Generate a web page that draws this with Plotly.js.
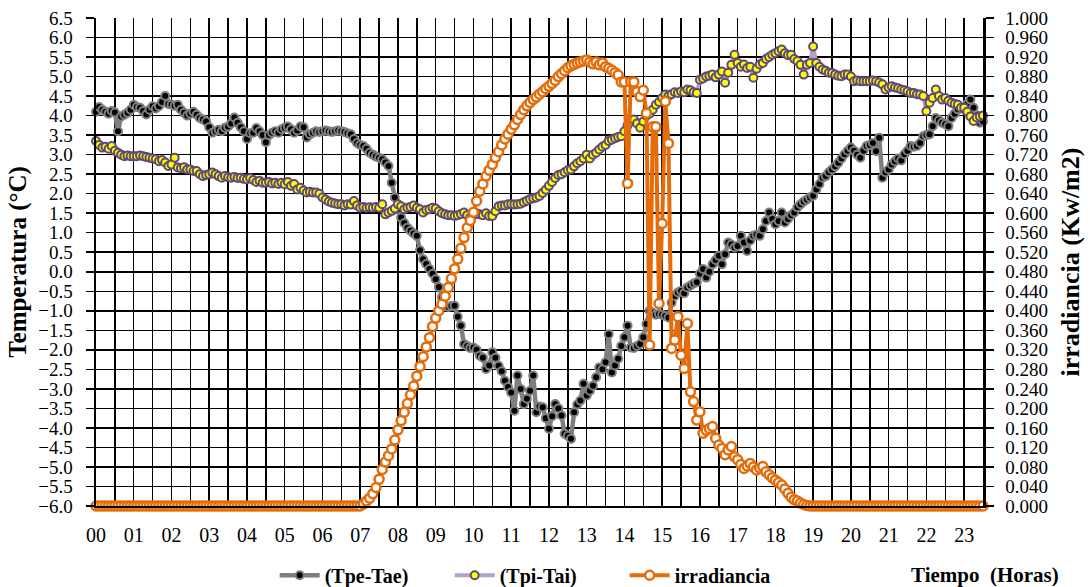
<!DOCTYPE html>
<html>
<head>
<meta charset="utf-8">
<script src="https://cdn.plot.ly/plotly-3.0.1.min.js"></script>
<style>
  html, body { margin: 0; padding: 0; background: #fff; }
  #chart { width: 1090px; height: 587px; }
</style>
</head>
<body>
<div id="chart"></div>
<script>
// Sampling: one reading every 5 minutes, from 00:00 to 23:30
const STEP_MIN = 5;

// (Tpe-Tae) in °C, one row per hour (12 readings)
const tpeTae = [
  4.10, 4.22, 4.15, 4.10, 4.05, 4.12, 4.08, 3.60, 3.98, 4.02, 4.07, 4.15,
  4.28, 4.22, 4.20, 4.12, 4.03, 4.15, 4.24, 4.18, 4.24, 4.35, 4.50, 4.30,
  4.28, 4.25, 4.28, 4.15, 4.07, 4.00, 4.05, 4.10, 4.02, 3.94, 3.90, 3.85,
  3.70, 3.56, 3.60, 3.64, 3.60, 3.69, 3.72, 3.80, 3.95, 3.82, 3.70, 3.60,
  3.40, 3.55, 3.56, 3.68, 3.60, 3.50, 3.32, 3.50, 3.56, 3.60, 3.56, 3.65,
  3.69, 3.72, 3.65, 3.56, 3.62, 3.72, 3.70, 3.44, 3.52, 3.56, 3.60, 3.58,
  3.60, 3.62, 3.60, 3.58, 3.60, 3.62, 3.60, 3.58, 3.55, 3.52, 3.40, 3.30,
  3.25, 3.22, 3.15, 3.05, 3.00, 2.95, 2.92, 2.88, 2.80, 2.71, 2.28, 1.90,
  1.60, 1.39, 1.25, 1.13, 1.05, 0.98, 0.92, 0.55, 0.32, 0.20, 0.07, -0.05,
  -0.19, -0.39, -0.65, -0.87, -0.90, -0.88, -0.87, -1.15, -1.38, -1.85, -1.90, -1.95,
  -1.94, -2.00, -2.15, -2.20, -2.49, -2.40, -2.06, -2.20, -2.41, -2.55, -2.79, -2.95,
  -3.09, -3.56, -2.66, -3.00, -3.39, -3.25, -3.05, -2.66, -3.60, -3.45, -3.47, -3.75,
  -4.02, -3.70, -3.39, -3.50, -3.68, -4.15, -4.20, -4.28, -3.60, -3.40, -3.30, -2.87,
  -3.17, -3.05, -2.92, -2.70, -2.45, -2.50, -2.32, -1.60, -2.58, -2.40, -2.23, -1.90,
  -1.68, -1.38, -1.94, -1.95, -1.90, -1.85, -1.68, -1.34, -1.00, -1.05, -1.10, -1.08,
  -1.10, -1.13, -1.17, -0.79, -0.62, -0.53, -0.49, -0.55, -0.40, -0.35, -0.30, -0.27,
  -0.05, 0.07, -0.15, 0.00, 0.19, 0.30, 0.41, 0.19, 0.45, 0.75, 0.70, 0.62,
  0.66, 0.92, 0.75, 0.53, 0.80, 0.92, 0.95, 0.92, 1.09, 1.30, 1.52, 1.35,
  1.22, 1.30, 1.52, 1.26, 1.35, 1.45, 1.52, 1.65, 1.73, 1.80, 1.85, 1.90,
  1.95, 2.11, 2.25, 2.41, 2.45, 2.55, 2.62, 2.70, 2.79, 2.90, 3.01, 3.10,
  3.18, 3.10, 3.00, 2.92, 3.10, 3.22, 3.25, 3.30, 3.09, 3.43, 2.41, 2.55,
  2.62, 2.75, 2.83, 2.90, 2.85, 3.01, 3.10, 3.22, 3.20, 3.22, 3.30, 3.47,
  3.50, 3.52, 3.73, 3.94, 3.88, 3.82, 3.78, 3.73, 3.94, 4.05, 4.16, 4.20,
  4.16, 4.30, 4.41, 4.20, 4.00, 3.82, 3.85
];

// (Tpi-Tai) in °C
const tpiTai = [
  3.35, 3.25, 3.18, 3.20, 3.15, 3.22, 3.10, 3.05, 3.00, 2.96, 2.98, 2.96,
  2.96, 2.96, 2.98, 2.96, 2.94, 2.92, 2.90, 2.88, 2.83, 2.86, 2.80, 2.71,
  2.75, 2.92, 2.67, 2.65, 2.68, 2.62, 2.62, 2.58, 2.58, 2.50, 2.45, 2.48,
  2.50, 2.54, 2.50, 2.45, 2.41, 2.45, 2.42, 2.41, 2.43, 2.40, 2.41, 2.38,
  2.37, 2.40, 2.35, 2.30, 2.33, 2.28, 2.28, 2.30, 2.26, 2.28, 2.25, 2.28,
  2.24, 2.30, 2.20, 2.25, 2.11, 2.15, 2.08, 2.03, 2.05, 2.03, 2.03, 2.00,
  1.90, 1.85, 1.80, 1.77, 1.75, 1.73, 1.73, 1.70, 1.73, 1.72, 1.81, 1.70,
  1.64, 1.66, 1.64, 1.65, 1.64, 1.66, 1.64, 1.73, 1.47, 1.52, 1.56, 1.62,
  1.73, 1.68, 1.60, 1.64, 1.66, 1.70, 1.64, 1.60, 1.52, 1.58, 1.60, 1.64,
  1.62, 1.55, 1.50, 1.47, 1.45, 1.45, 1.43, 1.45, 1.48, 1.52, 1.45, 1.39,
  1.45, 1.50, 1.47, 1.45, 1.50, 1.43, 1.43, 1.55, 1.68, 1.70, 1.70, 1.73,
  1.73, 1.72, 1.73, 1.74, 1.78, 1.82, 1.86, 1.88, 1.90, 1.94, 2.02, 2.10,
  2.20, 2.30, 2.40, 2.48, 2.50, 2.55, 2.60, 2.62, 2.70, 2.78, 2.83, 2.90,
  3.00, 2.90, 3.00, 3.05, 3.13, 3.20, 3.25, 3.35, 3.38, 3.42, 3.45, 3.47,
  3.60, 3.75, 3.85, 3.90, 3.80, 3.69, 3.85, 4.00, 4.05, 4.15, 4.28, 4.35,
  4.45, 4.54, 4.50, 4.55, 4.60, 4.58, 4.62, 4.60, 4.67, 4.65, 4.60, 4.58,
  4.92, 4.95, 5.00, 5.02, 5.05, 4.98, 5.05, 5.13, 4.84, 5.10, 5.30, 5.56,
  5.35, 5.25, 5.31, 5.22, 5.25, 4.97, 5.20, 5.31, 5.35, 5.45, 5.50, 5.56,
  5.60, 5.65, 5.69, 5.60, 5.55, 5.56, 5.45, 5.40, 5.30, 5.05, 5.30, 5.35,
  5.77, 5.35, 5.25, 5.18, 5.15, 5.10, 5.09, 5.05, 5.02, 5.01, 5.05, 5.05,
  5.00, 4.88, 4.90, 4.88, 4.88, 4.88, 4.88, 4.90, 4.88, 4.85, 4.80, 4.67,
  4.72, 4.75, 4.72, 4.70, 4.67, 4.65, 4.62, 4.58, 4.58, 4.55, 4.54, 4.50,
  4.11, 4.33, 4.45, 4.67, 4.50, 4.41, 4.45, 4.38, 4.33, 4.30, 4.28, 4.20,
  4.20, 4.10, 3.98, 3.86, 3.95, 3.98, 4.00
];

// irradiancia in kW/m2
const irradiancia = [
  0, 0, 0, 0, 0, 0, 0, 0, 0, 0, 0, 0,
  0, 0, 0, 0, 0, 0, 0, 0, 0, 0, 0, 0,
  0, 0, 0, 0, 0, 0, 0, 0, 0, 0, 0, 0,
  0, 0, 0, 0, 0, 0, 0, 0, 0, 0, 0, 0,
  0, 0, 0, 0, 0, 0, 0, 0, 0, 0, 0, 0,
  0, 0, 0, 0, 0, 0, 0, 0, 0, 0, 0, 0,
  0, 0, 0, 0, 0, 0, 0, 0, 0, 0, 0, 0,
  0.000, 0.004, 0.010, 0.016, 0.025, 0.038, 0.055, 0.075, 0.090, 0.103, 0.117, 0.135,
  0.156, 0.175, 0.192, 0.210, 0.228, 0.246, 0.266, 0.286, 0.306, 0.326, 0.345, 0.368,
  0.385, 0.400, 0.414, 0.430, 0.448, 0.466, 0.486, 0.506, 0.528, 0.550, 0.570, 0.585,
  0.602, 0.625, 0.645, 0.660, 0.676, 0.688, 0.700, 0.714, 0.726, 0.740, 0.752, 0.762,
  0.772, 0.781, 0.792, 0.802, 0.812, 0.820, 0.827, 0.833, 0.838, 0.844, 0.849, 0.855,
  0.860, 0.866, 0.872, 0.880, 0.886, 0.892, 0.898, 0.902, 0.905, 0.908, 0.910, 0.912,
  0.914, 0.910, 0.906, 0.910, 0.904, 0.908, 0.900, 0.897, 0.893, 0.888, 0.883, 0.869,
  0.869, 0.661, 0.869, 0.869, 0.849, 0.839, 0.852, 0.805, 0.330, 0.777, 0.777, 0.415,
  0.579, 0.829, 0.743, 0.323, 0.340, 0.388, 0.309, 0.282, 0.374, 0.234, 0.214, 0.176,
  0.193, 0.149, 0.155, 0.159, 0.163, 0.139, 0.125, 0.118, 0.105, 0.115, 0.122, 0.101,
  0.095, 0.085, 0.077, 0.082, 0.087, 0.080, 0.074, 0.078, 0.081, 0.070, 0.064, 0.058,
  0.053, 0.048, 0.043, 0.035, 0.026, 0.018, 0.013, 0.010, 0.006, 0.003, 0.001, 0.000,
  0, 0, 0, 0, 0, 0, 0, 0, 0, 0, 0, 0,
  0, 0, 0, 0, 0, 0, 0, 0, 0, 0, 0, 0,
  0, 0, 0, 0, 0, 0, 0, 0, 0, 0, 0, 0,
  0, 0, 0, 0, 0, 0, 0, 0, 0, 0, 0, 0,
  0, 0, 0, 0, 0, 0, 0
];

// Hour labels on the time axis
const hourLabels = ['00','01','02','03','04','05','06','07','08','09','10','11',
                    '12','13','14','15','16','17','18','19','20','21','22','23'];

// time of each reading, in hours
const hours = tpeTae.map((_, i) => i * STEP_MIN / 60);

// ticks every half hour (grid), labels only on the hour
const xTickVals = [];
const xTickText = [];
for (let h = 0; h <= 23.5; h += 0.5) {
  xTickVals.push(h);
  xTickText.push(Number.isInteger(h) ? hourLabels[h] : '');
}

const SERIF = 'Liberation Serif';

const traces = [
  {
    name: '(Tpe-Tae)', x: hours, y: tpeTae, type: 'scatter', mode: 'lines+markers',
    line: { color: '#7f7f7f', width: 4.5 },
    marker: { size: 8, color: '#000000', line: { color: '#7f7f7f', width: 2 } },
    cliponaxis: false
  },
  {
    name: '(Tpi-Tai)', x: hours, y: tpiTai, type: 'scatter', mode: 'lines+markers',
    line: { color: '#b3a2c7', width: 4 },
    marker: { size: 8, color: '#ffff00', line: { color: '#5f497a', width: 2 } },
    cliponaxis: false
  },
  {
    name: 'irradiancia', x: hours, y: irradiancia, type: 'scatter', mode: 'lines+markers',
    yaxis: 'y2',
    line: { color: '#e46c0a', width: 4 },
    marker: { size: 9, color: '#ffffff', line: { color: '#e46c0a', width: 2.5 } },
    cliponaxis: false
  }
];

const layout = {
  width: 1090, height: 587,
  margin: { l: 96, r: 107, t: 18, b: 81, autoexpand: false },
  paper_bgcolor: '#ffffff', plot_bgcolor: '#ffffff',
  font: { family: SERIF, color: '#000000', size: 19 },
  showlegend: true,
  legend: {
    orientation: 'h', xref: 'container', yref: 'container',
    x: 0.252, xanchor: 'left', y: 0.02, yanchor: 'middle',
    font: { family: SERIF, size: 20, weight: 'bold' },
    itemwidth: 40, entrywidth: 120, entrywidthmode: 'pixels',
    tracegroupgap: 0, bgcolor: 'rgba(0,0,0,0)'
  },
  xaxis: {
    range: [0, 23.5], tickmode: 'array', tickvals: xTickVals, ticktext: xTickText,
    showgrid: true, gridcolor: '#000000', gridwidth: 1.5,
    showline: true, linecolor: '#000000', linewidth: 2,
    ticks: '', ticklabelstandoff: 10,
    tickfont: { family: SERIF, size: 20 },
    zeroline: false, fixedrange: true, automargin: false
  },
  yaxis: {
    range: [-6, 6.5], dtick: 0.5, tick0: 0, tickformat: '.1f',
    showgrid: true, gridcolor: '#000000', gridwidth: 1.5,
    showline: true, linecolor: '#000000', linewidth: 2.5,
    ticks: 'outside', ticklen: 8, tickwidth: 1.5, tickcolor: '#000000',
    ticklabelstandoff: 9,
    tickfont: { family: SERIF, size: 19 },
    zeroline: false,
    title: { text: 'Temperatura (°C)', standoff: 5, font: { family: SERIF, size: 25, weight: 'bold' } },
    automargin: false, fixedrange: true
  },
  yaxis2: {
    range: [0, 1], dtick: 0.04, tick0: 0, tickformat: '.3f',
    overlaying: 'y', side: 'right',
    showgrid: false, showline: true, linecolor: '#000000', linewidth: 2.5,
    ticks: 'outside', ticklen: 8, tickwidth: 1.5, tickcolor: '#000000',
    ticklabelstandoff: 8,
    tickfont: { family: SERIF, size: 19 },
    zeroline: false,
    title: { text: 'irradiancia (Kw/m2)', standoff: 14, font: { family: SERIF, size: 26, weight: 'bold' } },
    automargin: false, fixedrange: true
  },
  annotations: [
    {
      text: 'Tiempo  (Horas)', xref: 'paper', yref: 'paper',
      x: 1.002, y: -0.141, xanchor: 'center', yanchor: 'middle', showarrow: false,
      font: { family: SERIF, size: 21, weight: 'bold' }
    }
  ]
};

Plotly.newPlot('chart', traces, layout, { displayModeBar: false, staticPlot: true });
</script>
</body>
</html>
